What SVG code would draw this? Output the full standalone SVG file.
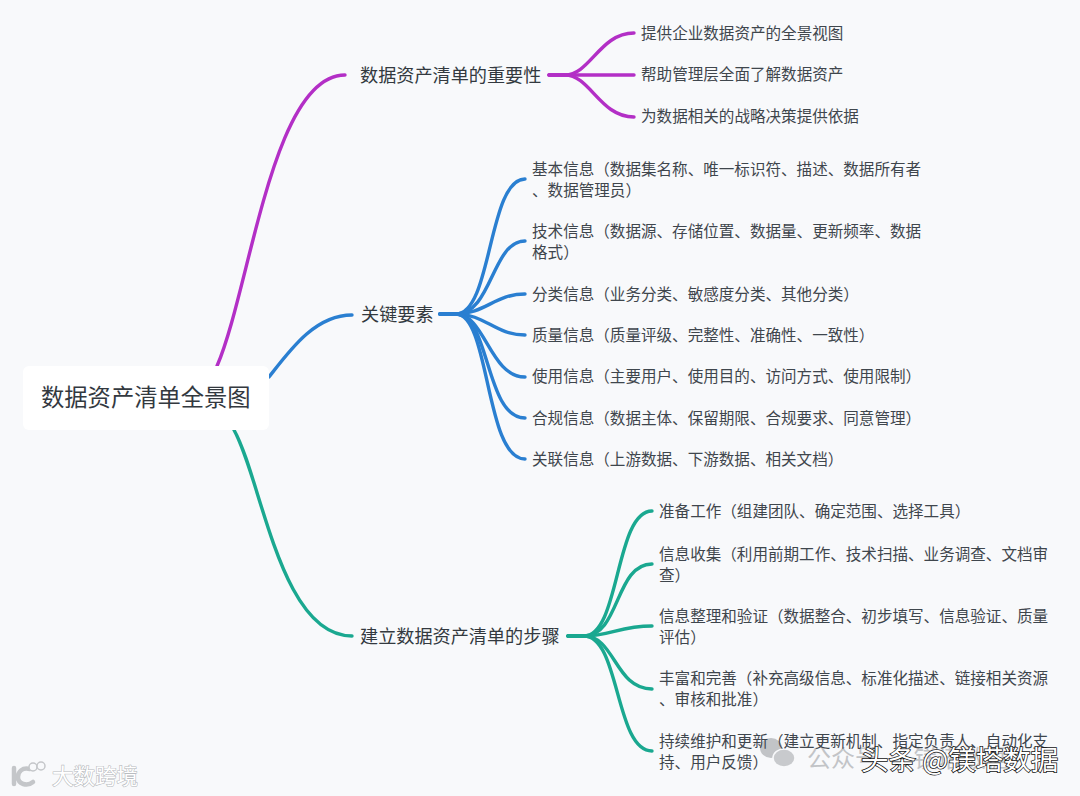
<svg xmlns="http://www.w3.org/2000/svg" width="1080" height="796" viewBox="0 0 1080 796">
<style>
text{font-family:"Noto Sans CJK SC","Noto Sans",sans-serif;fill:#3f464d}
.c{font-size:15.57px}
.m{font-size:18.15px;fill:#33393f}
.r{font-size:23.3px;fill:#33393f}
.l{fill:none;stroke-width:3.4;stroke-linecap:round}
.p{stroke:#b32fc6}.b{stroke:#2a7fd1}.g{stroke:#1aa890}
.wm{font-size:21.5px;fill:#fff;stroke:#b9bcc0;stroke-width:1.2;paint-order:stroke}
.wx{font-size:24px;fill:#c2c4c7}
.wt{font-size:27.5px;fill:#fff;stroke:#111;stroke-width:1.5;paint-order:stroke}
</style>
<rect width="1080" height="796" fill="#f8f9fb"/>
<g id="watermark-back">
<ellipse cx="771" cy="748" rx="11" ry="10" fill="#c2c4c7"/>
<ellipse cx="784" cy="758" rx="11" ry="9" fill="#c8cacd" stroke="#f8f9fb" stroke-width="1.5"/>
<text class="wx" x="807" y="767">公众号 · 镁塔数据</text>
</g>
<g id="connectors">
<path class="l p" d="M217 366C250 290 272 75 345 75"/>
<path class="l b" d="M269 377C290 350 315 315 352 315"/>
<path class="l g" d="M234 430C262 480 280 636 352 636"/>
<path class="l p" d="M549 75H565C590 75 600 33 634 33"/>
<path class="l p" d="M549 75H634"/>
<path class="l p" d="M549 75H565C590 75 600 117 634 117"/>
<path class="l b" d="M440 314H456C492 314 488 179 525 179"/>
<path class="l b" d="M440 314H456C492 314 492 241 525 241"/>
<path class="l b" d="M440 314H456C485 314 495 294 525 294"/>
<path class="l b" d="M440 314H456C485 314 495 335 525 335"/>
<path class="l b" d="M440 314H456C485 314 490 377 525 377"/>
<path class="l b" d="M440 314H456C490 314 485 418 525 418"/>
<path class="l b" d="M440 314H456C490 314 485 459 525 459"/>
<path class="l g" d="M568 636H584C620 636 615 511 652 511"/>
<path class="l g" d="M568 636H584C620 636 615 564 652 564"/>
<path class="l g" d="M568 636H584C610 636 620 626 652 626"/>
<path class="l g" d="M568 636H584C615 636 615 689 652 689"/>
<path class="l g" d="M568 636H584C620 636 615 751 652 751"/>
</g>
<g id="root"><rect x="23" y="366" width="246" height="64" rx="6" fill="#fff"/><text class="r" x="41" y="406">数据资产清单全景图</text></g>
<g id="n1"><text class="m" x="360" y="82">数据资产清单的重要性</text></g>
<g id="n1a"><text class="c" x="641" y="39">提供企业数据资产的全景视图</text></g>
<g id="n1b"><text class="c" x="641" y="80">帮助管理层全面了解数据资产</text></g>
<g id="n1c"><text class="c" x="641" y="122">为数据相关的战略决策提供依据</text></g>
<g id="n2"><text class="m" x="361" y="321">关键要素</text></g>
<g id="n2a"><text class="c" x="532" y="175">基本信息（数据集名称、唯一标识符、描述、数据所有者</text><text class="c" x="532" y="196">、数据管理员）</text></g>
<g id="n2b"><text class="c" x="532" y="237">技术信息（数据源、存储位置、数据量、更新频率、数据</text><text class="c" x="532" y="258">格式）</text></g>
<g id="n2c"><text class="c" x="532" y="300">分类信息（业务分类、敏感度分类、其他分类）</text></g>
<g id="n2d"><text class="c" x="532" y="341">质量信息（质量评级、完整性、准确性、一致性）</text></g>
<g id="n2e"><text class="c" x="532" y="382">使用信息（主要用户、使用目的、访问方式、使用限制）</text></g>
<g id="n2f"><text class="c" x="532" y="424">合规信息（数据主体、保留期限、合规要求、同意管理）</text></g>
<g id="n2g"><text class="c" x="532" y="465">关联信息（上游数据、下游数据、相关文档）</text></g>
<g id="n3"><text class="m" x="360" y="643">建立数据资产清单的步骤</text></g>
<g id="n3a"><text class="c" x="659" y="517">准备工作（组建团队、确定范围、选择工具）</text></g>
<g id="n3b"><text class="c" x="659" y="560">信息收集（利用前期工作、技术扫描、业务调查、文档审</text><text class="c" x="659" y="581">查）</text></g>
<g id="n3c"><text class="c" x="659" y="622">信息整理和验证（数据整合、初步填写、信息验证、质量</text><text class="c" x="659" y="643">评估）</text></g>
<g id="n3d"><text class="c" x="659" y="684">丰富和完善（补充高级信息、标准化描述、链接相关资源</text><text class="c" x="659" y="705">、审核和批准）</text></g>
<g id="n3e"><text class="c" x="659" y="747">持续维护和更新（建立更新机制、指定负责人、自动化支</text><text class="c" x="659" y="768">持、用户反馈）</text></g>
<g id="watermarks">
<path d="M14 768V784M30 769C22 767 18 772 18 777C18 784 27 787 33 782" fill="none" stroke="#c4c6c9" stroke-width="4.5" stroke-linecap="round"/>
<circle cx="33" cy="767" r="4" fill="#f8f9fb" stroke="#c4c6c9" stroke-width="1.5"/>
<circle cx="41" cy="766" r="4" fill="#f8f9fb" stroke="#c4c6c9" stroke-width="1.5"/>
<text class="wm" x="52" y="784">大数跨境</text>
<text class="wt" x="861" y="770">头条 @镁塔数据</text>
</g>
</svg>
